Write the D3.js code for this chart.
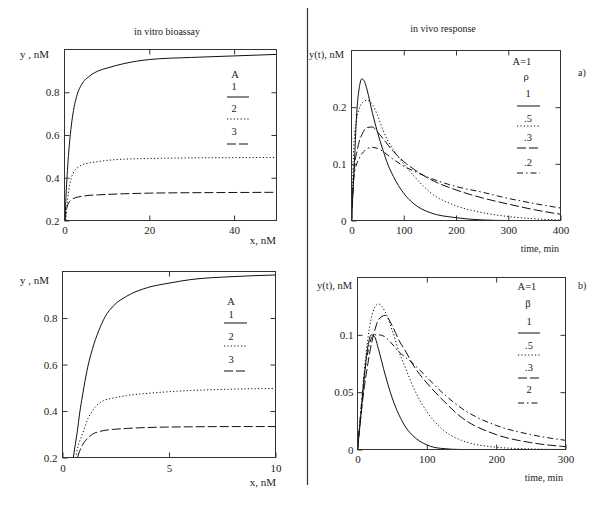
<!DOCTYPE html>
<html>
<head>
<meta charset="utf-8">
<script src="https://cdn.jsdelivr.net/npm/d3@7"></script>
<style>
  html, body { margin: 0; padding: 0; background: #fff; }
  svg { display: block; }
  text { font-family: "Liberation Serif", "DejaVu Serif", serif; fill: #222; }
</style>
</head>
<body>
<svg id="chart" width="600" height="530"></svg>
<script>
// ---------------- DATA ----------------
// in vitro bioassay, upper panel (x: 0..50 nM)
const vitroTopX      = [0.15, 0.3, 0.5, 1, 1.5, 2, 3, 4, 6, 8, 10, 14, 20, 30, 40, 50];
const vitroTopA1     = [0.2, 0.29, 0.37, 0.52, 0.625, 0.7, 0.79, 0.835, 0.877, 0.9, 0.913, 0.934, 0.953, 0.963, 0.97, 0.977];
const vitroTopA2     = [0.17, 0.2, 0.25, 0.34, 0.392, 0.42, 0.446, 0.459, 0.47, 0.476, 0.481, 0.487, 0.49, 0.493, 0.494, 0.495];
const vitroTopA3     = [0.2, 0.235, 0.255, 0.283, 0.295, 0.302, 0.309, 0.313, 0.318, 0.32, 0.322, 0.325, 0.328, 0.33, 0.331, 0.332];
// in vitro bioassay, lower panel (x: 0..10 nM)
const vitroBotX      = [0.5, 0.6, 0.7, 0.8, 0.9, 1.0, 1.2, 1.4, 1.7, 2.0, 2.4, 3, 4, 5, 6, 8, 10];
const vitroBotA1     = [0.195, 0.255, 0.315, 0.387, 0.445, 0.5, 0.595, 0.665, 0.745, 0.805, 0.853, 0.893, 0.931, 0.95, 0.965, 0.978, 0.985];
const vitroBotA2     = [0.14, 0.19, 0.237, 0.268, 0.293, 0.318, 0.368, 0.4, 0.432, 0.447, 0.456, 0.466, 0.476, 0.483, 0.488, 0.494, 0.497];
const vitroBotA3     = [0.1, 0.15, 0.197, 0.226, 0.248, 0.263, 0.285, 0.3, 0.311, 0.317, 0.321, 0.325, 0.329, 0.331, 0.332, 0.333, 0.333];
// in vivo response a) (time 0..400 min)
const vivoAT         = [0, 5, 10, 15, 20, 25, 30, 40, 50, 60, 70, 80, 100, 120, 150, 200, 250, 300, 350, 400];
const vivoA_rho1     = [0, 0.09, 0.19, 0.235, 0.25, 0.245, 0.23, 0.19, 0.155, 0.125, 0.098, 0.078, 0.048, 0.029, 0.014, 0.005, 0.001, 0, 0, 0];
const vivoA_rho05    = [0, 0.14, 0.18, 0.198, 0.207, 0.211, 0.212, 0.205, 0.185, 0.16, 0.14, 0.125, 0.1, 0.078, 0.05, 0.026, 0.014, 0.007, 0.003, 0.001];
const vivoA_rho03    = [0, 0.09, 0.12, 0.14, 0.152, 0.16, 0.164, 0.165, 0.156, 0.145, 0.133, 0.122, 0.104, 0.09, 0.073, 0.054, 0.04, 0.029, 0.019, 0.011];
const vivoA_rho02    = [0, 0.08, 0.1, 0.11, 0.118, 0.123, 0.127, 0.129, 0.127, 0.122, 0.115, 0.108, 0.096, 0.087, 0.075, 0.06, 0.05, 0.039, 0.03, 0.022];
// in vivo response b) (time 0..300 min)
const vivoBT         = [0, 5, 10, 15, 20, 25, 30, 40, 50, 60, 70, 80, 100, 120, 150, 200, 250, 300];
const vivoB_beta1    = [0, 0.03, 0.065, 0.09, 0.1, 0.098, 0.088, 0.065, 0.045, 0.03, 0.019, 0.012, 0.004, 0.001, 0, 0, 0, 0];
const vivoB_beta05   = [0, 0.035, 0.07, 0.097, 0.115, 0.124, 0.127, 0.12, 0.104, 0.085, 0.07, 0.055, 0.033, 0.019, 0.008, 0.002, 0.0005, 0];
const vivoB_beta03   = [0, 0.03, 0.055, 0.075, 0.092, 0.104, 0.113, 0.117, 0.108, 0.095, 0.085, 0.074, 0.058, 0.045, 0.028, 0.013, 0.006, 0.0025];
const vivoB_beta02   = [0, 0.035, 0.065, 0.085, 0.097, 0.1, 0.1, 0.098, 0.092, 0.085, 0.08, 0.075, 0.063, 0.051, 0.036, 0.021, 0.013, 0.008];

// tick values and labels
const vitroTopXTicks = [0, 20, 40];
const vitroBotXTicks = [0, 5, 10];
const vitroYTicks    = [0.2, 0.4, 0.6, 0.8];
const vitroYLabels   = ["0.2", "0.4", "0.6", "0.8"];
const vivoAXTicks    = [0, 100, 200, 300, 400];
const vivoAYTicks    = [0, 0.1, 0.2];
const vivoAYLabels   = ["0", "0.1", "0.2"];
const vivoBXTicks    = [0, 100, 200, 300];
const vivoBYTicks    = [0, 0.05, 0.1];
const vivoBYLabels   = ["0", "0.05", "0.1"];

// legend texts
const vitroLegendTitle = ["A"];
const vitroLegend      = ["1", "2", "3"];
const vivoALegendTitle = ["A=1", "ρ"];
const vivoALegend      = ["1", ".5", ".3", ".2"];
const vivoBLegendTitle = ["A=1", "β"];
const vivoBLegend      = ["1", ".5", ".3", "2"];

// ---------------- DRAWING ----------------
const svg = d3.select("#chart");
const dashes = { solid: null, dot: "1.2,2.2", dash: "9,3", dashdot: "6,3,1.5,3" };
let clipId = 0;

function panel(cfg) {
  const { x0, x1, y0, y1, xDom, yDom } = cfg;
  const x = d3.scaleLinear().domain(xDom).range([x0, x1]);
  const y = d3.scaleLinear().domain(yDom).range([y1, y0]);
  const id = "clip" + (clipId++);
  svg.append("clipPath").attr("id", id).append("rect")
    .attr("x", x0).attr("y", y0).attr("width", x1 - x0).attr("height", y1 - y0);

  // curves
  const g = svg.append("g").attr("clip-path", `url(#${id})`);
  cfg.series.forEach(s => {
    const pts = s.xs.map((v, i) => [v, s.ys[i]]);
    g.append("path")
      .attr("d", d3.line().x(d => x(d[0])).y(d => y(d[1])).curve(d3.curveMonotoneX)(pts))
      .attr("fill", "none").attr("stroke", "#111").attr("stroke-width", 1)
      .attr("stroke-dasharray", dashes[s.style]);
  });

  // frame
  svg.append("rect").attr("x", x0).attr("y", y0).attr("width", x1 - x0).attr("height", y1 - y0)
    .attr("fill", "none").attr("stroke", "#333").attr("stroke-width", 1);

  const styleAxis = sel => {
    sel.select(".domain").remove();
    sel.selectAll("line").attr("stroke", "#333");
    sel.selectAll("text").attr("font-family", "Liberation Serif, serif").attr("font-size", 11).attr("fill", "#222");
  };
  svg.append("g").attr("transform", `translate(0,${y1})`)
    .call(d3.axisBottom(x).tickValues(cfg.xTicks).tickFormat(d3.format("d")).tickSizeInner(-5).tickSizeOuter(0).tickPadding(cfg.xPad))
    .call(styleAxis);
  svg.append("g").attr("transform", `translate(0,${y0})`)
    .call(d3.axisTop(x).tickValues(cfg.xTicks.filter(v => v > xDom[0] && v < xDom[1])).tickFormat("").tickSizeInner(-5).tickSizeOuter(0))
    .call(styleAxis);
  svg.append("g").attr("transform", `translate(${x0},0)`)
    .call(d3.axisLeft(y).tickValues(cfg.yTicks).tickFormat((d, i) => cfg.yLabels[i]).tickSizeInner(-5).tickSizeOuter(0).tickPadding(cfg.yPad))
    .call(styleAxis);
  svg.append("g").attr("transform", `translate(${x1},0)`)
    .call(d3.axisRight(y).tickValues(cfg.yTicks.filter(v => v > yDom[0] && v < yDom[1])).tickFormat("").tickSizeInner(-5).tickSizeOuter(0))
    .call(styleAxis);

  // legend
  const L = cfg.legend;
  L.titles.forEach((t, i) => {
    svg.append("text").attr("x", L.titleX[i]).attr("y", L.titleY[i]).attr("text-anchor", "middle")
      .attr("font-size", 10.5).text(t);
  });
  L.labels.forEach((t, i) => {
    svg.append("text").attr("x", L.labelX).attr("y", L.labelY[i]).attr("text-anchor", "middle")
      .attr("font-size", 10.5).text(t);
    svg.append("line").attr("x1", L.lineX[0]).attr("x2", L.lineX[1])
      .attr("y1", L.lineY[i]).attr("y2", L.lineY[i])
      .attr("stroke", "#111").attr("stroke-width", 1)
      .attr("stroke-dasharray", dashes[cfg.series[i].style]);
  });
}

// top-left
panel({
  x0: 64.5, x1: 276.5, y0: 49.5, y1: 220.5, xDom: [0, 50], yDom: [0.2, 1.0],
  xTicks: vitroTopXTicks, yTicks: vitroYTicks, yLabels: vitroYLabels, xPad: 6, yPad: 5,
  series: [
    { xs: vitroTopX, ys: vitroTopA1, style: "solid" },
    { xs: vitroTopX, ys: vitroTopA2, style: "dot" },
    { xs: vitroTopX, ys: vitroTopA3, style: "dash" }
  ],
  legend: { titles: vitroLegendTitle, titleX: [235], titleY: [78], labels: vitroLegend, labelX: 234,
            labelY: [90, 112, 135], lineX: [227, 249], lineY: [97, 119, 144] }
});
// bottom-left
panel({
  x0: 62.5, x1: 275.5, y0: 271.5, y1: 457.5, xDom: [0, 10], yDom: [0.2, 1.0],
  xTicks: vitroBotXTicks, yTicks: vitroYTicks, yLabels: vitroYLabels, xPad: 7, yPad: 5,
  series: [
    { xs: vitroBotX, ys: vitroBotA1, style: "solid" },
    { xs: vitroBotX, ys: vitroBotA2, style: "dot" },
    { xs: vitroBotX, ys: vitroBotA3, style: "dash" }
  ],
  legend: { titles: vitroLegendTitle, titleX: [231], titleY: [305], labels: vitroLegend, labelX: 231,
            labelY: [318, 340, 363], lineX: [224, 247], lineY: [323, 346, 371] }
});
// top-right
panel({
  x0: 351.5, x1: 560.5, y0: 50.5, y1: 220.5, xDom: [0, 400], yDom: [0, 0.3],
  xTicks: vivoAXTicks, yTicks: vivoAYTicks, yLabels: vivoAYLabels, xPad: 6, yPad: 5,
  series: [
    { xs: vivoAT, ys: vivoA_rho1, style: "solid" },
    { xs: vivoAT, ys: vivoA_rho05, style: "dot" },
    { xs: vivoAT, ys: vivoA_rho03, style: "dash" },
    { xs: vivoAT, ys: vivoA_rho02, style: "dashdot" }
  ],
  legend: { titles: vivoALegendTitle, titleX: [522, 526], titleY: [65, 80], labels: vivoALegend, labelX: 528,
            labelY: [97, 122, 141, 166], lineX: [517, 540], lineY: [106, 126, 148, 173] }
});
// bottom-right
panel({
  x0: 357.5, x1: 565.5, y0: 277.5, y1: 449.5, xDom: [0, 300], yDom: [0, 0.15],
  xTicks: vivoBXTicks, yTicks: vivoBYTicks, yLabels: vivoBYLabels, xPad: 6, yPad: 4,
  series: [
    { xs: vivoBT, ys: vivoB_beta1, style: "solid" },
    { xs: vivoBT, ys: vivoB_beta05, style: "dot" },
    { xs: vivoBT, ys: vivoB_beta03, style: "dash" },
    { xs: vivoBT, ys: vivoB_beta02, style: "dashdot" }
  ],
  legend: { titles: vivoBLegendTitle, titleX: [527, 528], titleY: [290, 307], labels: vivoBLegend, labelX: 529,
            labelY: [325, 349, 371, 393], lineX: [518, 540], lineY: [333, 355, 378, 403] }
});

// titles and axis labels
const txt = (x, y, s, anchor, size) => svg.append("text").attr("x", x).attr("y", y)
  .attr("text-anchor", anchor || "start").attr("font-size", size || 11).text(s);
txt(167, 35, "in vitro bioassay", "middle", 10);
txt(443, 32, "in vivo response", "middle", 10);
txt(20, 58, "y , nM");
txt(20, 284, "y , nM");
txt(276, 244, "x, nM", "end");
txt(276, 486, "x, nM", "end");
txt(309, 58, "y(t), nM", "start", 10.5);
txt(317, 289, "y(t), nM", "start", 10.5);
txt(559, 252, "time, min", "end", 10);
txt(563, 481, "time, min", "end", 10);
txt(578, 76, "a)", "start", 10);
txt(578, 289, "b)", "start", 10);

// divider line
svg.append("line").attr("x1", 307.5).attr("x2", 307.5).attr("y1", 8).attr("y2", 485)
  .attr("stroke", "#333").attr("stroke-width", 1.2);
</script>
</body>
</html>
